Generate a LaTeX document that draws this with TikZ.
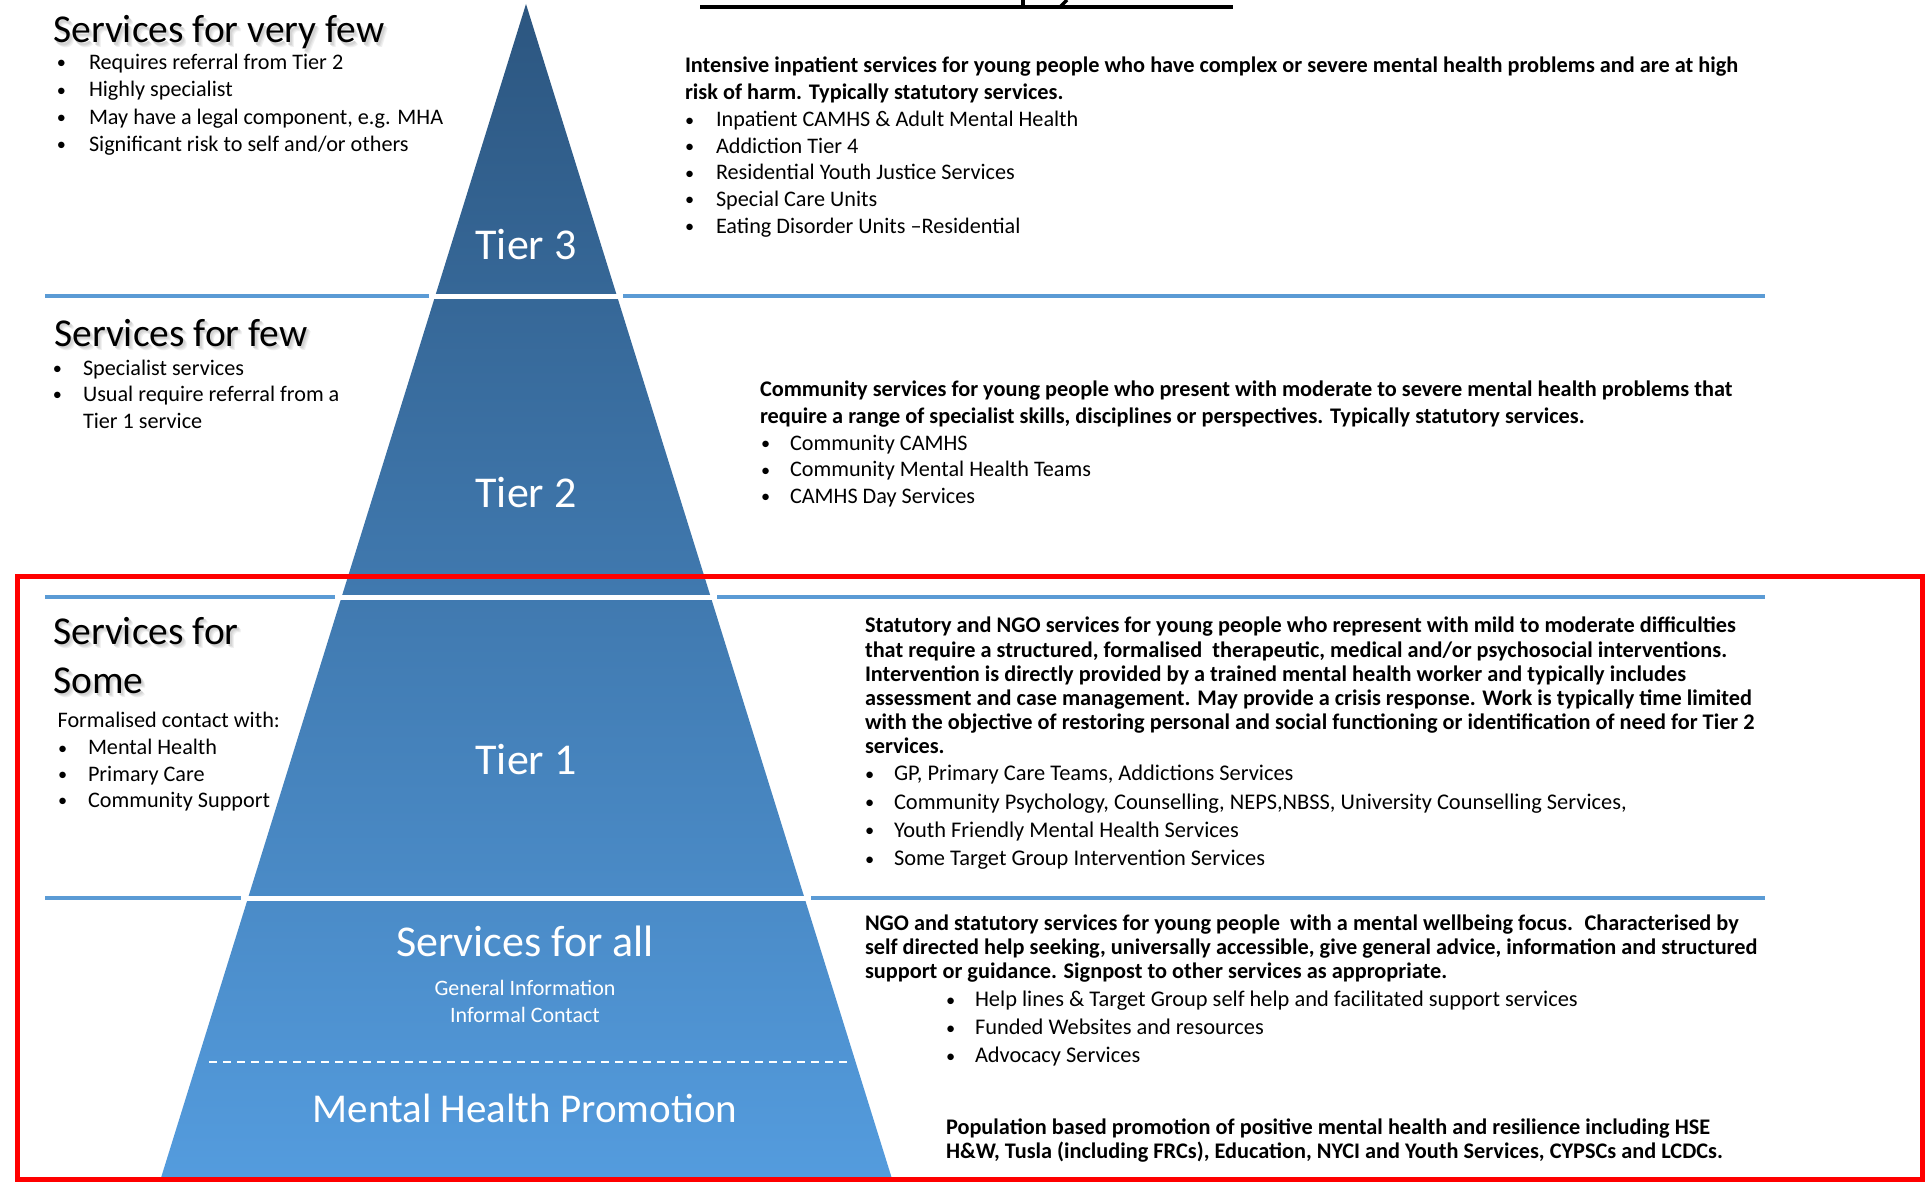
\documentclass[tikz,border=0pt]{standalone}
\usepackage{fontspec}
\setmainfont{Carlito}
\usetikzlibrary{calc}

\definecolor{tierblue}{RGB}{91,155,213}
\definecolor{pyrtop}{RGB}{44,86,128}
\definecolor{pyrbot}{RGB}{84,156,222}
\definecolor{framered}{RGB}{255,0,0}

% bullet item: a small bullet in a box of width \bulw, then the text
\newlength{\bulw}
\setlength{\bulw}{31pt}
\newcommand{\bul}[1]{\makebox[\bulw][l]{\hspace{1pt}\raisebox{0.6pt}{\scalebox{0.82}{\textbullet}}}#1}
% heading with a soft drop shadow (the shadow layers take no space)
\newcommand{\shadowed}[1]{%
  \smash{\makebox[0pt][l]{\hspace{4pt}\raisebox{-4.5pt}{\color{black!6}#1}}}%
  \smash{\makebox[0pt][l]{\hspace{3pt}\raisebox{-3.5pt}{\color{black!11}#1}}}%
  \smash{\makebox[0pt][l]{\hspace{2pt}\raisebox{-2.5pt}{\color{black!17}#1}}}%
  #1}

\tikzset{
  tierline/.style={draw=tierblue, line width=4pt},
  gapline/.style={draw=white, line width=5pt},
  blk/.style={inner sep=0pt, outer sep=0pt, align=left, anchor=north west},
  headtxt/.style={inner sep=0pt, anchor=base west, font=\fontsize{39.5}{47}\selectfont},
  tierlbl/.style={inner sep=0pt, anchor=base, text=white, font=\fontsize{44}{52}\selectfont},
  tiersub/.style={inner sep=0pt, anchor=base, text=white, font=\fontsize{22}{27}\selectfont},
}

\begin{document}
\begin{tikzpicture}[x=1pt,y=-1pt]
\useasboundingbox (0,0) rectangle (1926,1182);
\clip (0,0) rectangle (1926,1182);
\fill[white] (0,0) rectangle (1926,1182);

% underline of the heading above the page edge
\draw[line width=4pt] (700,7) -- (1233,7);
\draw[line width=4pt] (1023,0) -- (1023,7);
\draw[line width=3.5pt] (1067,0) -- (1060,7);

% horizontal tier dividers
\coordinate (d3l) at (45,296);  \coordinate (d3r) at (1765,296);
\coordinate (d2l) at (45,597);  \coordinate (d2r) at (1765,597);
\coordinate (d1l) at (45,898);  \coordinate (d1r) at (1765,898);
\draw[tierline] (d3l) -- (d3r);
\draw[tierline] (d2l) -- (d2r);
\draw[tierline] (d1l) -- (d1r);

% pyramid
\coordinate (apex) at (526,4);
\coordinate (bl) at (159.7,1182);
\coordinate (br) at (893,1182);
\shade[top color=pyrtop, bottom color=pyrbot] (apex) -- (bl) -- (br) -- cycle;

% white gaps between the pyramid bands
\draw[gapline] (429,296) -- (623,296);
\draw[gapline] (335,597) -- (717,597);
\draw[gapline] (241,898) -- (811,898);
\draw[white, line width=2pt, dash pattern=on 8pt off 6pt] (209,1062) -- (847,1062);

% highlight frame around the lower tiers
\draw[framered, line width=5pt] (17,576) rectangle (1922,1179);

% labels inside the pyramid
\node[tierlbl] (t3) at (526,259) {Tier 3};
\node[tierlbl] (t2) at (526,507) {Tier 2};
\node[tierlbl] (t1) at (526,774) {Tier 1};
\node[tierlbl] (t0) at (525,956) {Services for all};
\node[tiersub] (gi) at (525,995.7) {General Information};
\node[tiersub] (ic) at (525,1022.7) {Informal Contact};
\node[tierlbl, font=\fontsize{41}{49}\selectfont] (mhp) at (525,1122.7) {Mental Health Promotion};

% left column
\node[headtxt] (h3) at (53,43) {\shadowed{Services for very few}};
\node[blk, font=\fontsize{22.2}{27.4}\selectfont\setlength{\bulw}{33pt}] (l3b) at (56,50.1)
  {\strut\bul{Requires referral from Tier 2}\\
   \bul{Highly specialist}\\
   \bul{May have a legal component, e.g. MHA}\\
   \bul{Significant risk to self and/or others}};

\node[headtxt] (h2) at (54,346) {\shadowed{Services for few}};
\node[blk, font=\fontsize{22.2}{26.5}\selectfont\setlength{\bulw}{31pt}] (l2b) at (52,356.5)
  {\strut\bul{Specialist services}\\
   \bul{Usual require referral from a}\\
   \hspace*{\bulw}Tier 1 service};

\node[headtxt] (h1a) at (53,644) {\shadowed{Services for}};
\node[headtxt] (h1b) at (53,693) {\shadowed{Some}};
\node[inner sep=0pt, anchor=base west, font=\fontsize{22.2}{26}\selectfont] (l1f) at (57.4,727) {Formalised contact with:};
\node[blk, font=\fontsize{22.2}{26.2}\selectfont\setlength{\bulw}{31pt}] (l1b) at (57,736.5)
  {\strut\bul{Mental Health}\\
   \bul{Primary Care}\\
   \bul{Community Support}};

% right column: tier 3
\node[blk, font=\fontsize{22.3}{27}\selectfont\bfseries] (r3p) at (685,54)
  {\strut Intensive inpatient services for young people who have complex or severe mental health problems and are at high\\
   risk of harm. Typically statutory services.};
\node[blk, font=\fontsize{22.2}{26.6}\selectfont\setlength{\bulw}{32pt}] (r3b) at (684,108)
  {\strut\bul{Inpatient CAMHS \& Adult Mental Health}\\
   \bul{Addiction Tier 4}\\
   \bul{Residential Youth Justice Services}\\
   \bul{Special Care Units}\\
   \bul{Eating Disorder Units –Residential}};

% right column: tier 2
\node[blk, font=\fontsize{22.3}{27}\selectfont\bfseries] (r2p) at (760,378)
  {\strut Community services for young people who present with moderate to severe mental health problems that\\
   require a range of specialist skills, disciplines or perspectives. Typically statutory services.};
\node[blk, font=\fontsize{22.2}{26.6}\selectfont\setlength{\bulw}{30pt}] (r2b) at (760,431.5)
  {\strut\bul{Community CAMHS}\\
   \bul{Community Mental Health Teams}\\
   \bul{CAMHS Day Services}};

% right column: tier 1
\node[blk, font=\fontsize{22.3}{24.2}\selectfont\bfseries] (r1p) at (865,616)
  {\strut Statutory and NGO services for young people who represent with mild to moderate difficulties\\
   that require a structured, formalised~ therapeutic, medical and/or psychosocial interventions.\\
   Intervention is directly provided by a trained mental health worker and typically includes\\
   assessment and case management. May provide a crisis response. Work is typically time limited\\
   with the objective of restoring personal and social functioning or identification of need for Tier 2\\
   services.};
\node[blk, font=\fontsize{22.4}{28.3}\selectfont\setlength{\bulw}{30pt}] (r1b) at (864,761)
  {\strut\bul{GP, Primary Care Teams, Addictions Services}\\
   \bul{Community Psychology, Counselling, NEPS,NBSS, University Counselling Services,}\\
   \bul{Youth Friendly Mental Health Services}\\
   \bul{Some Target Group Intervention Services}};

% right column: services for all
\node[blk, font=\fontsize{22.3}{24}\selectfont\bfseries] (r0p) at (865,913.5)
  {\strut NGO and statutory services for young people~ with a mental wellbeing focus.~ Characterised by\\
   self directed help seeking, universally accessible, give general advice, information and structured\\
   support or guidance. Signpost to other services as appropriate.};
\node[blk, font=\fontsize{22.4}{28}\selectfont\setlength{\bulw}{30pt}] (r0b) at (945,987)
  {\strut\bul{Help lines \& Target Group self help and facilitated support services}\\
   \bul{Funded Websites and resources}\\
   \bul{Advocacy Services}};
\node[blk, font=\fontsize{22.3}{24}\selectfont\bfseries] (r0q) at (946,1117.5)
  {\strut Population based promotion of positive mental health and resilience including HSE\\
   H\&W, Tusla (including FRCs), Education, NYCI and Youth Services, CYPSCs and LCDCs.};
\end{tikzpicture}
\end{document}
